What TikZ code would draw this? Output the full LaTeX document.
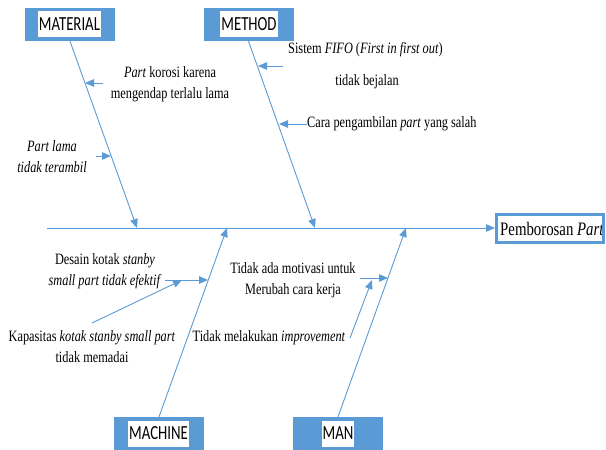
\documentclass[tikz,border=0pt]{standalone}
\usepackage{fontspec}
\setmainfont[FakeStretch=0.78]{Liberation Serif}
\newfontfamily\boxfont[FakeStretch=0.74]{Carlito}
\usetikzlibrary{arrows.meta}
\definecolor{obl}{HTML}{5B9BD5}
\begin{document}
\begin{tikzpicture}[x=1pt,y=-1pt,
  catbox/.style={fill=obl, minimum width=90pt, minimum height=33pt, inner sep=0pt},
  catlabel/.style={fill=white, inner xsep=1pt, inner ysep=0pt, minimum height=26pt, font=\boxfont\fontsize{20}{22}\selectfont},
  bone/.style={draw=obl, line width=0.9pt, -{Triangle[length=9pt,width=7.5pt]}},
  cause/.style={font=\fontsize{15.8}{21}\selectfont, align=center, inner sep=0pt}]
\useasboundingbox (0,0) rectangle (606,450);

% category boxes
\node[catbox] (mat) at (70,24.5) {};
\node[catlabel] (matl) at (69.5,24) {MATERIAL};
\node[catbox] (met) at (248.5,24.5) {};
\node[catlabel] (metl) at (249,24) {METHOD};
\node[catbox] (mac) at (159,433.5) {};
\node[catlabel] (macl) at (158.5,433.5) {MACHINE};
\node[catbox] (man) at (338,433.5) {};
\node[catlabel] (manl) at (338,433.5) {MAN};

% effect
\node[anchor=west, inner sep=0pt, font=\fontsize{19}{21}\selectfont] (efft) at (500,229) {Pemborosan \textit{Part}};
\node[draw=obl, line width=3pt, minimum width=107pt, minimum height=28pt, inner sep=0pt] (eff) at (550,228.5) {};

% spine
\coordinate (sp0) at (47,228);
\draw[bone] (sp0) -- (eff.west |- sp0);

% bones
\coordinate (matE) at (137,228);
\coordinate (metE) at (315,228);
\coordinate (macE) at (227,228);
\coordinate (manE) at (406,228);
\draw[bone] (mat.south) -- (matE);
\draw[bone] (met.south) -- (metE);
\draw[bone] (mac.north) -- (macE);
\draw[bone] (man.north) -- (manE);

% MATERIAL causes
\node[cause] (c1) at (170,84) {\textit{Part} korosi karena\\mengendap terlalu lama};
\coordinate (c1s) at (103,83); \coordinate (c1e) at (85,83);
\draw[bone] (c1s) -- (c1e);
\node[cause, font=\itshape\fontsize{15.8}{21}\selectfont] (c2) at (52,157) {Part lama\\tidak terambil};
\coordinate (c2s) at (96,156); \coordinate (c2e) at (111,156);
\draw[bone] (c2s) -- (c2e);

% METHOD causes
\node[cause, anchor=west] (c3) at (288,50) {Sistem \textit{FIFO} (\textit{First in first out})};
\node[cause] (c3b) at (367,82) {tidak bejalan};
\coordinate (c3s) at (283,66); \coordinate (c3e) at (258,66);
\draw[bone] (c3s) -- (c3e);
\node[cause, anchor=west] (c4) at (307,124) {Cara pengambilan \textit{part} yang salah};
\draw[bone] (c4.west) -- (279,124);

% MACHINE causes
\node[cause] (c5) at (105,271) {Desain kotak \textit{stanby}\\\textit{small part tidak efektif}};
\coordinate (c5s) at (165,280); \coordinate (c5e) at (208,280);
\draw[bone] (c5s) -- (c5e);
\node[cause] (c6) at (92,347) {Kapasitas \textit{kotak stanby small part}\\tidak memadai};
\coordinate (c6s) at (92,323); \coordinate (c6e) at (182,280);
\draw[bone] (c6s) -- (c6e);

% MAN causes
\node[cause] (c7) at (293,280) {Tidak ada motivasi untuk\\Merubah cara kerja};
\coordinate (c7s) at (360,278); \coordinate (c7e) at (388,278);
\draw[bone] (c7s) -- (c7e);
\node[cause] (c8) at (269,338) {Tidak melakukan \textit{improvement}};
\coordinate (c8s) at (350,338); \coordinate (c8e) at (372,280);
\draw[bone] (c8s) -- (c8e);
\end{tikzpicture}
\end{document}
